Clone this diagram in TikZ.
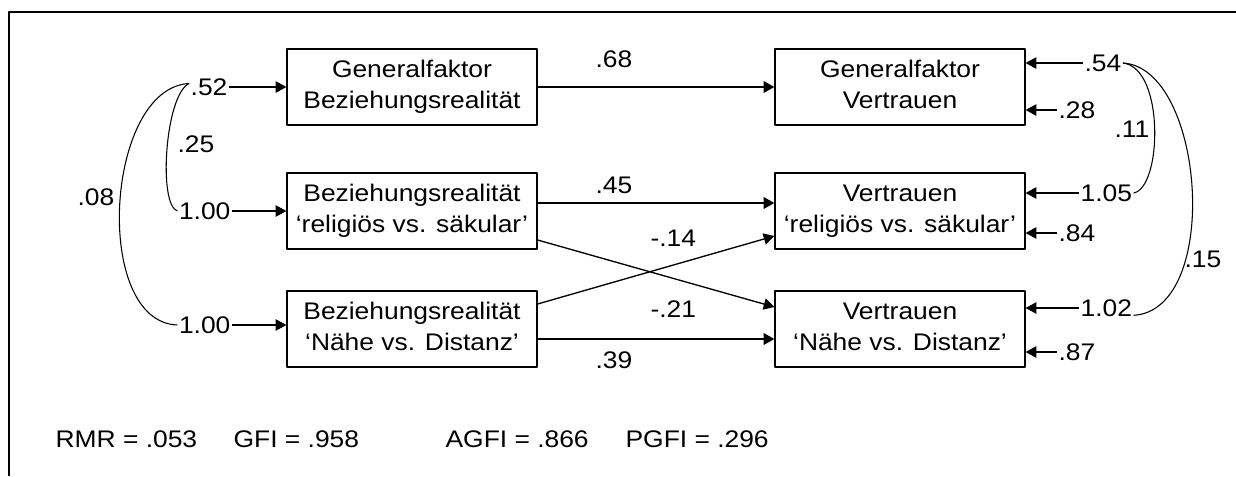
\documentclass[tikz,border=0pt]{standalone}
\usepackage{fontspec}
\setmainfont[FakeStretch=1.1]{Liberation Sans}
\usetikzlibrary{arrows.meta}
\newcommand{\zw}[2]{\rule{0pt}{13.5pt}#1\\#2\rule[-5.25pt]{0pt}{5.25pt}}
\begin{document}
\begin{tikzpicture}[x=0.75pt,y=-0.75pt,>={Triangle[length=8pt,width=8.5pt]},line join=round,
	font=\fontsize{18pt}{23.25pt}\selectfont,
	box/.style={draw,line width=0.9pt,minimum width=187.5pt,minimum height=57pt,inner sep=0pt,align=center},
	num/.style={inner sep=1pt},
	effekt/.style={->,line width=1.6pt},
	kreuz/.style={->,line width=1pt},
	fehler/.style={->,line width=0.8pt},
	kov/.style={line width=0.8pt}]
	\useasboundingbox (0,0) rectangle (1236,476);
	% Rahmen
	\draw[line width=1.5pt] (9,476) -- (9,12) -- (1236,12);
	
	% Faktoren Beziehungsrealität
	\node[box] (b1) at (412,87) {\zw{Generalfaktor}{Beziehungsrealität}};
	\node[box] (b2) at (412,211) {\zw{Beziehungsrealität}{‘religiös vs. säkular’}};
	\node[box] (b3) at (412,329) {\zw{Beziehungsrealität}{‘Nähe vs. Distanz’}};
	
	% Faktoren Vertrauen
	\node[box] (v1) at (900,87) {\zw{Generalfaktor}{Vertrauen}};
	\node[box] (v2) at (900,211) {\zw{Vertrauen}{‘religiös vs. säkular’}};
	\node[box] (v3) at (900,329) {\zw{Vertrauen}{‘Nähe vs. Distanz’}};
	
	% Pfade
	\draw[effekt] (b1) -- (v1);
	\draw[effekt] ([yshift=6pt]b2.east) -- ([yshift=6pt]v2.west);
	\draw[kreuz] ([yshift=-21.75pt]b2.east) -- ([yshift=16.5pt]v3.west);
	\draw[kreuz] ([yshift=18.75pt]b3.east) -- ([yshift=-18.75pt]v2.west);
	\draw[effekt] ([yshift=-7.5pt]b3.east) -- ([yshift=-7.5pt]v3.west);
	\node[num,anchor=base west] (p1) at (594,67) {.68};
	\node[num,anchor=base west] (p2) at (594,193) {.45};
	\node[num,anchor=base west] (p3) at (649,246) {-.14};
	\node[num,anchor=base west] (p4) at (649,317) {-.21};
	\node[num,anchor=base west] (p5) at (594,368) {.39};
	
	% Varianzen links
	\node[num,anchor=east] (e1) at (229,87) {.52};
	\node[num,anchor=east] (e2) at (232,211) {1.00};
	\node[num,anchor=east] (e3) at (232,325) {1.00};
	\foreach \i in {1,2,3}
	\draw[fehler] (e\i.east) -- (b\i.west |- e\i.east);
	
	% Kovarianzen links
	\draw[kov] (e1.170) .. controls (165,95) and (158,205) .. (e2.west);
	\draw[kov] (e1.170) .. controls (105,88) and (92,322) .. (e3.west);
	\node[num,anchor=base west] (k1) at (176,152) {.25};
	\node[num,anchor=base west] (k2) at (76,205) {.08};
	
	% Residuen rechts
	\node[num,anchor=west] (f1) at (1083,63) {.54};
	\node[num,anchor=west] (f2) at (1057,110) {.28};
	\node[num,anchor=west] (f3) at (1079,193) {1.05};
	\node[num,anchor=west] (f4) at (1057,233) {.84};
	\node[num,anchor=west] (f5) at (1079,308) {1.02};
	\node[num,anchor=west] (f6) at (1057,352) {.87};
	\draw[fehler] (f1.west) -- (v1.east |- f1.west);
	\draw[fehler] (f2.west) -- (v1.east |- f2.west);
	\draw[fehler] (f3.west) -- (v2.east |- f3.west);
	\draw[fehler] (f4.west) -- (v2.east |- f4.west);
	\draw[fehler] (f5.west) -- (v3.east |- f5.west);
	\draw[fehler] (f6.west) -- (v3.east |- f6.west);
	
	% Kovarianzen rechts
	\draw[kov] (f1.east) .. controls (1165,68) and (1162,188) .. (f3.east);
	\draw[kov] (f1.east) .. controls (1205,68) and (1222,310) .. (f5.-15);
	\node[num,anchor=base west] (k3) at (1113,137) {.11};
	\node[num,anchor=base west] (k4) at (1183,267) {.15};
	
	% Fit-Indizes
	\node[num,anchor=base west] (rmr) at (54,447) {RMR = .053};
	\node[num,anchor=base west] (gfi) at (232,447) {GFI = .958};
	\node[num,anchor=base west] (agfi) at (444,447) {AGFI = .866};
	\node[num,anchor=base west] (pgfi) at (624,447) {PGFI = .296};
\end{tikzpicture}
\end{document}
